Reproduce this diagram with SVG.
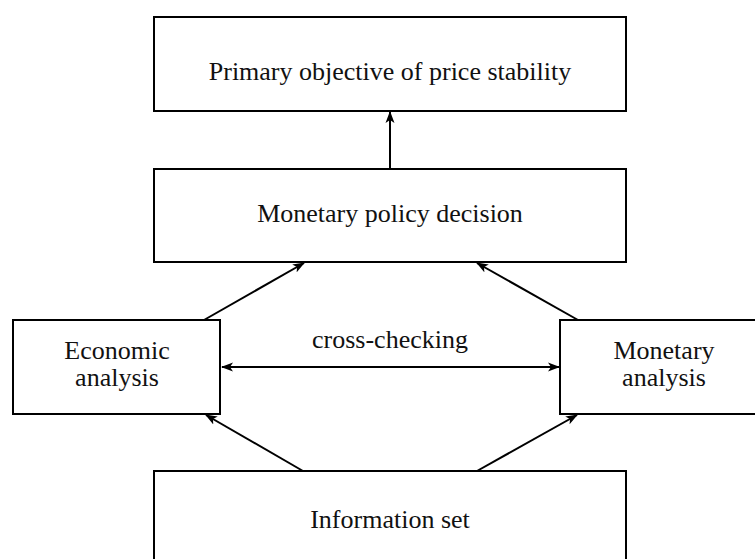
<svg xmlns="http://www.w3.org/2000/svg" width="755" height="559" viewBox="0 0 755 559">
<style>
.box{fill:#fff;stroke:#000;stroke-width:2}
.lbl{font-family:"Liberation Serif","Times New Roman",serif;font-size:26px;fill:#111;text-anchor:middle}
.conn{stroke:#000;stroke-width:2;fill:none}
</style>
<defs>
<marker id="ah" viewBox="0 0 12 10" refX="11" refY="5" markerWidth="12" markerHeight="10" markerUnits="userSpaceOnUse" orient="auto-start-reverse">
<path d="M0,0.5 L12,5 L0,9.5 L3,5 Z" fill="#000"/>
</marker>
</defs>
<rect width="755" height="559" fill="#fff"/>
<g id="objective">
<rect class="box" x="154" y="17" width="472" height="94"/>
<text class="lbl" x="390" y="80">Primary objective of price stability</text>
</g>
<g id="decision">
<rect class="box" x="154" y="169" width="472" height="93"/>
<text class="lbl" x="390" y="222">Monetary policy decision</text>
</g>
<g id="economic">
<rect class="box" x="13" y="320" width="207" height="94"/>
<text class="lbl" x="117" y="359">Economic</text>
<text class="lbl" x="117" y="386">analysis</text>
</g>
<g id="monetary">
<rect class="box" x="560" y="320" width="207" height="94"/>
<text class="lbl" x="664" y="359">Monetary</text>
<text class="lbl" x="664" y="386">analysis</text>
</g>
<g id="information">
<rect class="box" x="154" y="471" width="472" height="100"/>
<text class="lbl" x="390" y="528">Information set</text>
</g>
<g id="connectors">
<line class="conn" x1="390" y1="169" x2="390" y2="112" marker-end="url(#ah)"/>
<line class="conn" x1="204" y1="320" x2="304" y2="263" marker-end="url(#ah)"/>
<line class="conn" x1="578" y1="320" x2="477" y2="263" marker-end="url(#ah)"/>
<line class="conn" x1="303" y1="471" x2="206" y2="415" marker-end="url(#ah)"/>
<line class="conn" x1="477" y1="471" x2="577" y2="415" marker-end="url(#ah)"/>
<line class="conn" x1="222" y1="367" x2="559" y2="367" marker-start="url(#ah)" marker-end="url(#ah)"/>
<text class="lbl" x="390" y="348">cross-checking</text>
</g>
</svg>
